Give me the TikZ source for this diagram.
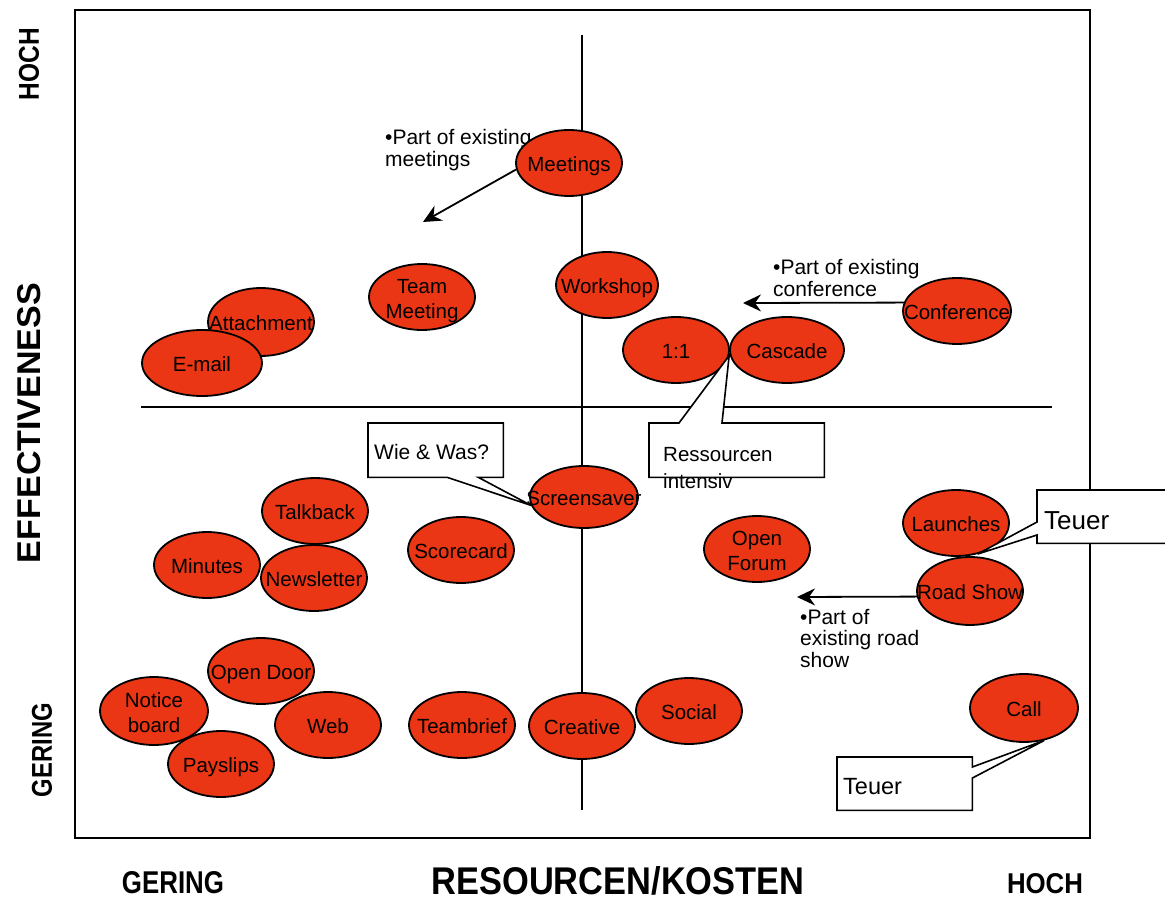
\documentclass[tikz,border=0pt]{standalone}
\usepackage{fontspec}
\usepackage{graphicx}
\setmainfont{Liberation Sans}
\usetikzlibrary{shapes.geometric,arrows.meta,calc}
\definecolor{bubred}{RGB}{234,54,20}
\newcommand{\ctr}[1]{\makebox[0pt][c]{\smash{\raisebox{-9pt}{\begin{tabular}{@{}c@{}}#1\end{tabular}}}}}
\newcommand{\lft}[1]{\begin{tabular}[t]{@{}l@{}}#1\end{tabular}}
\begin{document}
\begin{tikzpicture}[x=1pt,y=-1pt,
  bub/.style={ellipse, draw=black, line width=1.8pt, fill=bubred, inner sep=0pt,
    minimum width=106pt, minimum height=66pt, font=\fontsize{20.5}{25}\selectfont},
  axisline/.style={line width=1.6pt},
  frameline/.style={line width=1.6pt},
  arr/.style={line width=1.8pt, -{Stealth[length=18pt,width=17pt,inset=6pt]}},
  ann/.style={anchor=base west, inner sep=0pt, font=\fontsize{21}{21.5}\selectfont},
  cph/.style={rectangle, inner sep=0pt, anchor=north west},
  callout/.style={draw=black, line width=1.6pt, fill=white, line join=miter},
  ctext/.style={anchor=base west, inner sep=0pt},
  big/.style={inner sep=0pt}
]
\useasboundingbox (0,0) rectangle (1165,901);
\fill[white] (0,0) rectangle (1165,901);

% frame and axes
\draw[frameline] (75,10) rectangle (1090,838);
\coordinate (vtop) at (582,35);
\coordinate (vbot) at (582,810);
\coordinate (hl) at (141,407);
\coordinate (hr) at (1052,407);
\draw[axisline] (vtop) -- (vbot);
\draw[axisline] (hl) -- (hr);

% annotations
\node[ann] (ann1) at (385,145) {\lft{•Part of existing\\meetings}};
\node[ann] (ann2) at (773,275) {\lft{•Part of existing\\conference}};
\node[ann] (ann3) at (800,624) {\lft{•Part of\\existing road\\show}};

% bubbles
\node[bub] (meet) at (569,163) {\ctr{Meetings}};
\node[bub] (team) at (422,297) {\ctr{Team\\Meeting}};
\node[bub, minimum width=102pt] (work) at (607,285) {\ctr{Workshop}};
\node[bub, minimum height=68pt] (att) at (261,322) {\ctr{Attachment}};
\node[bub, minimum width=120pt] (email) at (202,363) {\ctr{E-mail}};
\node[bub] (one) at (676,350) {\ctr{1:1}};
\node[bub, minimum width=114pt] (casc) at (787,350) {\ctr{Cascade}};
\node[bub, minimum width=108pt] (conf) at (957,311) {\ctr{Conference}};
\node[bub, minimum width=108pt, minimum height=62pt] (scr) at (584,497) {\ctr{Screensaver}};
\node[bub] (talk) at (315,511) {\ctr{Talkback}};
\node[bub] (minu) at (207,565) {\ctr{Minutes}};
\node[bub] (news) at (314,578) {\ctr{Newsletter}};
\node[bub] (score) at (461,550) {\ctr{Scorecard}};
\node[bub] (forum) at (757,549) {\ctr{Open\\Forum}};
\node[bub] (lau) at (956,523) {\ctr{Launches}};
\node[bub, minimum height=68pt] (rs) at (970,591) {\ctr{Road Show}};
\node[bub] (door) at (261,671) {\ctr{Open Door}};
\node[bub, minimum width=108pt, minimum height=68pt] (notice) at (154,711) {\ctr{Notice\\board}};
\node[bub] (pay) at (221,764) {\ctr{Payslips}};
\node[bub] (web) at (328,725) {\ctr{Web}};
\node[bub] (teamb) at (462,725) {\ctr{Teambrief}};
\node[bub] (crea) at (582,726) {\ctr{Creative}};
\node[bub] (soc) at (689,711) {\ctr{Social}};
\node[bub, minimum width=108pt, minimum height=68pt] (call) at (1024,708) {\ctr{Call}};

% arrows
\coordinate (a1) at (423,222);
\coordinate (a2) at (743,303);
\coordinate (a3) at (797,597);
\draw[arr] (meet.187) -- (a1);
\draw[arr] (conf.171) -- (a2);
\draw[arr] (rs.186) -- (a3);

% callouts
\node[cph, minimum width=135pt, minimum height=54pt] (wie) at (368,423) {};
\node[cph, minimum width=175pt, minimum height=54pt] (res) at (649,423) {};
\node[cph, minimum width=140pt, minimum height=53pt] (teu1) at (1037,490) {};
\node[cph, minimum width=135pt, minimum height=53pt] (teu2) at (837,757) {};

\draw[callout] (wie.north west) -- (wie.north east) -- (wie.south east)
  -- ([xshift=-25pt]wie.south east) -- (scr.189) -- ([xshift=-56pt]wie.south east)
  -- (wie.south west) -- cycle;
\draw[callout] (res.south west) -- (res.north west) -- ([xshift=30pt]res.north west)
  -- (one.-6) -- ([xshift=73pt]res.north west) -- (res.north east)
  -- (res.south east) -- cycle;
\draw[callout] (teu1.north west) -- (teu1.north east) -- (teu1.south east)
  -- (teu1.south west) -- ([yshift=-45pt]teu1.north west) -- (lau.-55)
  -- ([yshift=-32pt]teu1.north west) -- cycle;
\draw[callout] (teu2.north west) -- (teu2.north east) -- ([yshift=-10pt]teu2.north east)
  -- (call.-58) -- ([yshift=-21pt]teu2.north east) -- (teu2.south east)
  -- (teu2.south west) -- cycle;

\node[ctext, font=\fontsize{21}{26}\selectfont] (wiet) at (374,459) {Wie \& Was?};
\node[ctext, font=\fontsize{20.5}{27}\selectfont] (rest) at (663,461) {\lft{Ressourcen\\intensiv}};
\node[ctext, font=\fontsize{26}{30}\selectfont] (teu1t) at (1044,529) {Teuer};
\node[ctext, font=\fontsize{23.5}{28}\selectfont] (teu2t) at (843,794) {Teuer};

% axis titles
\node[big, rotate=90] (lhoch) at (29,64) {\resizebox{72pt}{20pt}{\bfseries HOCH}};
\node[big, rotate=90] (leff) at (29,423) {\resizebox{280pt}{23pt}{\bfseries EFFECTIVENESS}};
\node[big, rotate=90] (lger) at (42,750) {\resizebox{94pt}{20pt}{\bfseries GERING}};
\node[big] (bger) at (173,883) {\resizebox{102pt}{22pt}{\bfseries GERING}};
\node[big] (bres) at (618,881) {\resizebox{373pt}{28pt}{\bfseries RESOURCEN/KOSTEN}};
\node[big] (bhoch) at (1045,884) {\resizebox{76pt}{20pt}{\bfseries HOCH}};
\end{tikzpicture}
\end{document}
